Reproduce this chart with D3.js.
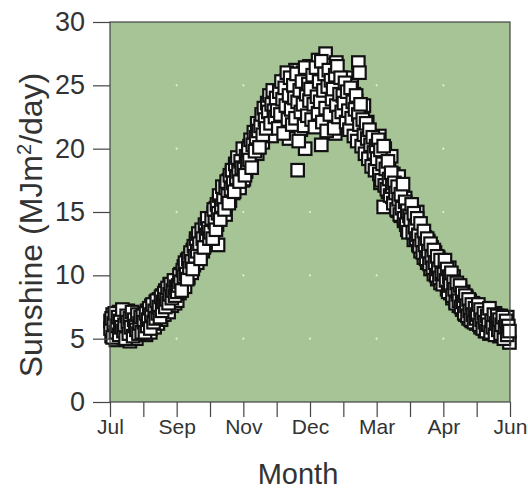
<!DOCTYPE html>
<html>
<head>
<meta charset="utf-8">
<script src="https://cdn.jsdelivr.net/npm/d3@7"></script>
<style>
  body { margin: 0; background: #fff; }
  svg text { font-family: "Liberation Sans", Arial, Helvetica, sans-serif; fill: #333; }
</style>
</head>
<body>
<div id="chart"></div>
<script>
// daily sunshine readings, one array per month (Jul -> Jun), first season
const jul = [6.4,5.2,6.9,5.6,6.1,4.9,6.6,5.8,7.1,5.3,6.3,6.0,5.1,6.8,5.5,6.2,7.2,5.7,4.8,6.5,5.9,6.9,5.4,6.3,5.0,6.7,6.1,5.6,7.0,5.8,6.4];
const aug = [5.7,6.8,5.3,7.2,6.1,6.6,5.5,7.6,6.4,7.0,5.9,7.9,6.8,6.2,8.1,7.3,6.5,8.4,7.7,6.9,8.8,7.4,8.2,7.1,9.3,8.0,7.6,9.0,8.5,7.8,9.4];
const sep = [8.0,9.6,8.6,10.1,8.9,9.4,10.7,9.1,10.3,11.2,9.8,10.9,11.6,10.2,12.0,10.8,11.4,12.6,11.0,12.2,13.1,11.7,12.8,11.9,13.5,12.4,13.9,12.7,14.2,13.3];
const oct = [12.6,14.1,13.2,14.9,13.7,15.3,14.0,12.4,15.8,14.6,16.2,15.0,16.7,15.4,14.8,17.0,16.1,17.5,15.9,16.8,18.1,16.5,17.6,18.6,17.2,18.9,17.8,16.9,19.2,18.3,17.5];
const nov = [17.6,19.0,18.2,19.7,18.6,20.2,19.3,18.8,20.6,19.9,21.1,20.3,19.6,21.5,20.8,22.0,21.2,20.5,22.4,21.7,23.0,21.4,22.6,23.4,22.1,21.0,23.7,22.8,24.1,22.3];
const dec = [22.4,23.5,21.8,24.2,22.9,25.0,23.3,24.6,22.1,25.4,23.8,20.8,24.9,23.0,25.8,24.1,22.6,26.2,23.6,18.3,24.7,25.5,21.5,24.0,26.0,23.2,20.0,25.2,24.4,22.8,26.5];
const jan = [23.9,25.6,22.7,26.3,24.5,21.9,25.1,27.0,23.4,24.8,20.3,26.0,24.2,22.5,27.5,25.3,23.1,24.9,26.6,22.0,25.7,23.6,24.4,21.2,26.8,23.8,25.0,22.9,24.6,23.3,24.0];
const feb = [24.8,23.2,25.6,22.6,24.1,23.6,21.9,25.0,22.8,24.3,21.4,23.8,22.6,26.8,26.0,21.6,22.9,20.9,23.4,21.3,20.4,22.1,19.8,21.0,20.1,19.3,20.7,18.8,19.9,19.1];
const mar = [20.3,18.4,21.0,17.3,19.6,18.9,15.4,20.0,17.7,19.2,16.6,18.5,17.0,19.4,16.2,18.0,15.8,17.4,16.9,15.1,17.8,16.3,14.7,16.8,15.5,14.3,16.1,14.9,13.6,15.6,14.1];
const apr = [15.2,13.6,14.7,12.8,14.2,13.1,15.0,12.4,13.8,11.9,13.3,12.6,11.4,13.0,12.1,11.0,12.7,11.6,10.5,12.2,11.2,10.1,11.8,10.8,9.7,11.4,10.3,9.4,10.9,9.9];
const may = [10.9,9.4,10.3,8.9,9.8,10.6,8.6,9.5,8.2,9.9,8.8,7.9,9.3,8.4,7.6,9.0,8.0,7.3,8.7,7.7,6.9,8.3,7.4,6.6,8.0,7.1,6.4,7.8,6.8,7.3,6.2];
const jun = [7.6,6.4,7.1,5.9,6.9,6.2,7.4,5.6,6.7,6.0,7.2,5.4,6.5,6.9,5.8,6.3,7.0,5.5,6.6,6.1,5.2,6.8,5.9,6.4,5.3,6.2,5.7,6.7,5.1,4.7];

// second season
const jul2 = [5.8,6.6,5.1,6.2,7.0,5.5,6.0,6.7,5.3,6.4,5.9,7.3,5.6,6.1,5.0,6.8,6.3,5.4,6.6,5.9,7.1,5.2,6.5,6.0,5.7,6.9,5.4,6.2,6.7,5.5,6.8];
const aug2 = [6.3,5.5,7.0,6.0,6.5,7.4,5.8,6.9,7.7,6.3,7.2,6.6,8.0,7.0,7.5,6.7,8.3,7.2,7.9,8.6,7.5,8.1,9.0,7.8,8.5,9.3,8.2,8.8,9.6,8.4,9.1];
const sep2 = [8.7,9.2,10.0,9.5,8.8,10.4,9.9,11.0,10.1,9.7,11.3,10.6,11.8,11.1,10.5,12.3,11.5,12.9,11.9,13.3,12.5,11.3,13.6,12.9,12.2,14.0,13.2,14.5,13.7,12.9];
const oct2 = [13.4,14.5,12.9,15.2,14.2,13.6,15.6,14.9,16.3,14.4,15.5,17.0,16.0,15.2,16.9,17.4,16.3,15.7,17.9,16.8,18.3,17.3,16.6,18.8,17.7,19.3,18.2,17.4,19.0,18.5,20.0];
const nov2 = [18.4,17.9,19.4,18.9,20.0,19.1,20.7,18.5,20.3,21.3,19.8,20.9,22.0,21.4,20.1,21.8,22.7,21.1,23.2,22.3,21.6,23.6,22.9,24.2,22.0,23.5,24.6,23.0,22.5,24.0];
const dec2 = [23.0,21.6,24.5,22.7,25.3,23.9,21.2,24.8,23.4,26.0,22.3,24.2,25.6,23.1,21.9,25.0,24.0,22.4,25.9,23.7,20.6,24.6,22.9,25.3,23.5,21.8,26.4,24.3,22.6,25.1,23.8];
const jan2 = [24.7,22.3,25.8,23.5,21.7,26.4,24.1,22.8,25.3,23.7,26.9,22.1,24.6,25.9,23.2,21.4,24.9,26.2,22.7,25.4,23.9,24.7,21.6,25.8,23.4,26.5,22.5,24.3,25.6,22.9,24.2];
const feb2 = [23.6,25.2,22.1,24.5,23.0,21.5,24.8,22.4,23.7,21.0,23.1,24.2,20.6,22.7,21.9,23.5,20.2,22.3,21.1,19.6,22.0,20.8,19.2,21.5,20.3,18.6,20.9,19.7,18.3,20.2];
const mar2 = [19.2,20.7,18.0,19.9,17.5,18.8,20.2,17.1,18.4,16.8,19.0,17.6,16.3,18.1,17.0,15.7,17.3,16.5,15.2,17.0,16.0,14.8,16.4,15.3,17.2,14.5,15.8,14.0,15.1,13.4,14.7];
const apr2 = [14.4,15.6,13.4,14.9,13.8,12.9,14.5,13.2,12.3,14.1,12.8,11.8,13.5,12.4,11.3,12.9,11.9,10.9,12.5,11.4,10.6,12.0,11.0,10.0,11.5,10.5,9.8,11.2,10.1,9.3];
const may2 = [10.1,11.2,9.6,10.5,8.7,9.9,9.2,10.2,8.4,9.5,8.9,7.8,9.4,8.5,8.0,9.2,7.5,8.6,7.9,7.0,8.4,7.6,6.8,8.1,7.2,6.5,7.7,6.9,6.3,7.4,6.6];
const jun2 = [6.9,7.7,6.1,7.3,6.5,5.8,7.0,6.3,5.6,6.8,6.1,7.4,5.5,6.4,5.9,6.9,5.3,6.2,6.8,5.7,6.5,5.4,6.1,6.7,5.0,5.9,6.4,5.3,6.0,5.6];

const season1 = [jul, aug, sep, oct, nov, dec, jan, feb, mar, apr, may, jun];
const season2 = [jul2, aug2, sep2, oct2, nov2, dec2, jan2, feb2, mar2, apr2, may2, jun2];
const monthTicks = [0,1,2,3,4,5,6,7,8,9,10,11,12];
const monthLabels = ["Jul","","Sep","","Nov","","Dec","","Mar","","Apr","","Jun"];
const yTicks = [0,5,10,15,20,25,30];

const W = 528, H = 490;
const plotL = 110, plotR = 510, plotT = 22, plotB = 402;

const svg = d3.select('#chart').append('svg')
    .attr('width', W)
    .attr('height', H);

const x = d3.scaleLinear().domain([0, 12]).range([plotL, plotR]);
const y = d3.scaleLinear().domain([0, 30]).range([plotB, plotT]);

// flatten month arrays into points; position within month by day index
const points = [];
[season1, season2].forEach(season => {
    season.forEach((vals, m) => {
        vals.forEach((v, i) => points.push({ t: m + (i + 0.5) / vals.length, v: v }));
    });
});

svg.append('rect')
    .attr('x', plotL).attr('y', plotT)
    .attr('width', plotR - plotL).attr('height', plotB - plotT)
    .attr('fill', '#a6c496');

// faint grid dots
const dotX = [2, 4, 6, 8, 10];
const dotY = [5, 10, 15, 20, 25];
dotX.forEach(dx => dotY.forEach(dy => {
    svg.append('circle')
        .attr('cx', x(dx)).attr('cy', y(dy)).attr('r', 1.1)
        .attr('fill', '#e2f0d6');
}));

const sq = 12.5;
svg.append('g').selectAll('rect')
    .data(points)
    .enter()
    .append('rect')
    .attr('x', d => x(d.t) - sq / 2)
    .attr('y', d => y(d.v) - sq / 2)
    .attr('width', sq)
    .attr('height', sq)
    .attr('fill', '#fff')
    .attr('stroke', '#111')
    .attr('stroke-width', 2.2);

svg.append('rect')
    .attr('x', plotL).attr('y', plotT)
    .attr('width', plotR - plotL).attr('height', plotB - plotT)
    .attr('fill', 'none')
    .attr('stroke', '#444')
    .attr('stroke-width', 1.2);

// y axis
const yAxis = d3.axisLeft(y).tickValues(yTicks).tickSize(17).tickPadding(8);
const gy = svg.append('g').attr('transform', `translate(${plotL},0)`).call(yAxis);
gy.select('.domain').remove();
gy.selectAll('line').attr('stroke', '#444').attr('stroke-width', 1.2);
gy.selectAll('text').attr('font-size', 27).attr('fill', '#333')
    .style('font-family', '"Liberation Sans", Arial, sans-serif');

// x axis
const xAxis = d3.axisBottom(x).tickValues(monthTicks)
    .tickFormat((d, i) => monthLabels[i]).tickSize(15).tickPadding(2);
const gx = svg.append('g').attr('transform', `translate(0,${plotB})`).call(xAxis);
gx.select('.domain').remove();
gx.selectAll('line').attr('stroke', '#444').attr('stroke-width', 1.2);
gx.selectAll('text').attr('font-size', 21).attr('fill', '#333')
    .style('font-family', '"Liberation Sans", Arial, sans-serif');

svg.append('text')
    .attr('x', 298).attr('y', 484)
    .attr('text-anchor', 'middle')
    .attr('font-size', 29)
    .text('Month');

const yl = svg.append('text')
    .attr('transform', `translate(42,225) rotate(-90)`)
    .attr('text-anchor', 'middle')
    .attr('font-size', 32);
yl.append('tspan').text('Sunshine (MJm');
yl.append('tspan').attr('font-size', 20).attr('dy', -11).text('2');
yl.append('tspan').attr('dy', 11).text('/day)');
</script>
</body>
</html>
